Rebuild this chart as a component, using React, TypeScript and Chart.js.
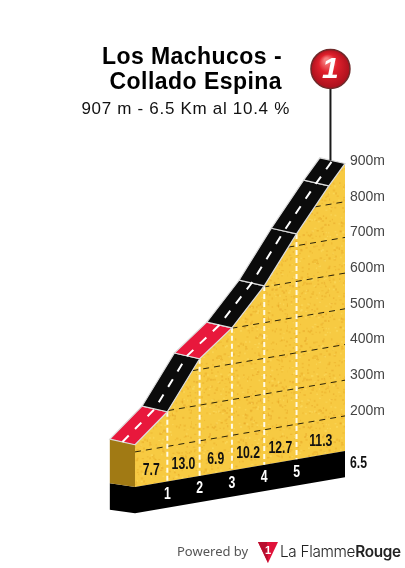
import React, { useEffect, useRef } from "react";
import { Chart, registerables } from "chart.js";

Chart.register(...registerables);

const TITLE_LINES = ["Los Machucos -", "Collado Espina"];
const SUBTITLE = "907 m - 6.5 Km al 10.4 %";

const KM = [0, 1, 2, 3, 4, 5, 6, 6.5];
const ELEVATION = [220, 297, 430, 501, 603, 733, 852, 907];
const ROAD_COLORS = ["#e8183c", "#0b0b0b", "#e8183c", "#0b0b0b", "#0b0b0b", "#0b0b0b", "#0b0b0b"];
const GRADE_KM = [0.5, 1.5, 2.5, 3.5, 4.5, 5.75];
const GRADE_LABELS = ["7.7", "13.0", "6.9", "10.2", "12.7", "11.3"];
const KM_MARKS = [1, 2, 3, 4, 5];
const GRID_HEIGHTS = [200, 300, 400, 500, 600, 700, 800];
const TICK_HEIGHTS = [200, 300, 400, 500, 600, 700, 800, 900];
const TOTAL_KM = 6.5;
const TOTAL_LABEL = "6.5";
const BASE_TOP = 102;
const BASE_BOTTOM = 28;
const GRADE_LEVEL = 141;
const KM_LABEL_LEVEL = 66;
const SKEW = 15.52;
const BACK_KM = -0.78;
const BACK_UP = 16;
const PIN_KM = 6.05;
const PIN_TOP = 1172;

const flat = (km: number, h: number) => ({ x: km, y: h - (TOTAL_KM - km) * SKEW });
const back = (km: number, h: number, up = BACK_UP) => {
  const p = flat(km, h);
  return { x: p.x + BACK_KM, y: p.y + up };
};
const mid = (km: number, h: number) => {
  const p = flat(km, h);
  return { x: p.x + BACK_KM / 2, y: p.y + BACK_UP / 2 };
};

function gridStart(h: number) {
  if (ELEVATION[0] >= h) return 0;
  for (let i = 1; i < KM.length; i++) {
    if (ELEVATION[i] >= h) {
      const t = (h - ELEVATION[i - 1]) / (ELEVATION[i] - ELEVATION[i - 1]);
      return KM[i - 1] + t * (KM[i] - KM[i - 1]);
    }
  }
  return TOTAL_KM;
}

function elevationAt(km: number) {
  for (let i = 1; i < KM.length; i++) {
    if (km <= KM[i]) {
      const t = (km - KM[i - 1]) / (KM[i] - KM[i - 1]);
      return ELEVATION[i - 1] + t * (ELEVATION[i] - ELEVATION[i - 1]);
    }
  }
  return ELEVATION[ELEVATION.length - 1];
}

function speckle(): CanvasPattern | string {
  const c = document.createElement("canvas");
  c.width = 96;
  c.height = 96;
  const g = c.getContext("2d");
  if (!g) return "#f7ca42";
  g.fillStyle = "#f7ca42";
  g.fillRect(0, 0, 96, 96);
  let s = 7;
  const next = () => {
    s = (s * 75 + 74) % 65537;
    return s / 65537;
  };
  for (let i = 0; i < 500; i++) {
    const r = next();
    g.fillStyle = r < 0.55 ? "rgba(232,170,40,0.45)" : r < 0.8 ? "rgba(252,218,96,0.6)" : "rgba(224,155,34,0.4)";
    g.fillRect(next() * 96, next() * 96, 1 + next() * 1.5, 1 + next() * 1.2);
  }
  return g.createPattern(c, "repeat") || "#f7ca42";
}

const shape = (data: any[], color: any, extra: any = {}) => ({
  data,
  showLine: true,
  fill: "shape",
  backgroundColor: color,
  borderColor: color,
  borderWidth: 0,
  pointRadius: 0,
  tension: 0,
  ...extra,
});

const stroke = (data: any[], color: string, width: number, dash: number[] = []) => ({
  data,
  showLine: true,
  fill: false,
  borderColor: color,
  backgroundColor: color,
  borderWidth: width,
  borderDash: dash,
  pointRadius: 0,
  tension: 0,
});

function narrowText(ctx: any, t: string, x: number, y: number, sx: number) {
  ctx.save();
  ctx.translate(x, y);
  ctx.scale(sx, 1);
  ctx.fillText(t, 0, 0);
  ctx.restore();
}

const textPlugin = {
  id: "profileText",
  afterDatasetsDraw(chart: any) {
    const { ctx, scales } = chart;
    const X = (v: number) => scales.x.getPixelForValue(v);
    const Y = (v: number) => scales.y.getPixelForValue(v);
    ctx.save();
    ctx.textBaseline = "middle";
    ctx.textAlign = "center";
    ctx.font = 'bold 17px "Liberation Sans"';
    ctx.fillStyle = "#111";
    GRADE_LABELS.forEach((t, i) => {
      const p = flat(GRADE_KM[i], GRADE_LEVEL);
      narrowText(ctx, t, X(p.x), Y(p.y), 0.72);
    });
    ctx.fillStyle = "#fff";
    KM_MARKS.forEach((k) => {
      const p = flat(k, KM_LABEL_LEVEL);
      narrowText(ctx, String(k), X(p.x), Y(p.y), 0.72);
    });
    ctx.textAlign = "left";
    ctx.fillStyle = "#111";
    const e = flat(TOTAL_KM, KM_LABEL_LEVEL);
    narrowText(ctx, TOTAL_LABEL, X(e.x) + 5, Y(e.y), 0.72);

    const bx = X(PIN_KM);
    const by = Y(PIN_TOP);
    const r = 20;
    const grad = ctx.createRadialGradient(bx - 4, by - 9, 2, bx, by, r);
    grad.addColorStop(0, "#f78080");
    grad.addColorStop(0.4, "#e0202c");
    grad.addColorStop(1, "#a8101c");
    ctx.beginPath();
    ctx.arc(bx, by, r - 0.5, 0, Math.PI * 2);
    ctx.fillStyle = grad;
    ctx.fill();
    ctx.lineWidth = 1.5;
    ctx.strokeStyle = "#6e2a2a";
    ctx.stroke();
    ctx.textAlign = "center";
    ctx.fillStyle = "#fff";
    ctx.font = 'italic bold 30px "Liberation Sans"';
    ctx.fillText("1", bx, by + 1);
    ctx.restore();
  },
};

export default function App() {
  const ref = useRef<HTMLCanvasElement>(null);
  useEffect(() => {
    if (!ref.current) return;
    const last = KM.length - 1;
    const front = KM.map((k, i) => flat(k, ELEVATION[i]));
    const mountain = [...front, flat(TOTAL_KM, BASE_TOP), flat(0, BASE_TOP), front[0]];
    const base = [
      flat(0, BASE_TOP),
      flat(TOTAL_KM, BASE_TOP),
      flat(TOTAL_KM, BASE_BOTTOM),
      flat(0, BASE_BOTTOM),
      back(0, BASE_BOTTOM, 10),
      back(0, BASE_TOP, 10),
      flat(0, BASE_TOP),
    ];
    const block = [
      flat(0, ELEVATION[0]),
      flat(0, BASE_TOP),
      back(0, BASE_TOP, 10),
      back(0, ELEVATION[0]),
      flat(0, ELEVATION[0]),
    ];
    const grids = GRID_HEIGHTS.map((h) => stroke([flat(gridStart(h), h), flat(TOTAL_KM, h)], "#2a2208", 1, [6, 5]));
    const verticals = KM_MARKS.map((k) => stroke([flat(k, elevationAt(k)), flat(k, BASE_TOP)], "#fffbe8", 2, [5, 3]));
    const road = ROAD_COLORS.map((color, i) =>
      shape(
        [
          flat(KM[i], ELEVATION[i]),
          flat(KM[i + 1], ELEVATION[i + 1]),
          back(KM[i + 1], ELEVATION[i + 1]),
          back(KM[i], ELEVATION[i]),
          flat(KM[i], ELEVATION[i]),
        ],
        color,
        { borderColor: "#dcdcdc", borderWidth: 1.2 }
      )
    );
    const pinBase = mid(TOTAL_KM, ELEVATION[last]);
    const painted = [
      shape(mountain, speckle()),
      shape(base, "#000"),
      shape(block, "#a17a14"),
      ...grids,
      ...verticals,
      ...road,
      stroke(KM.map((k, i) => mid(k, ELEVATION[i])), "#fff", 2, [9, 9]),
      stroke([{ x: PIN_KM, y: pinBase.y }, { x: PIN_KM, y: PIN_TOP }], "#1a1a1a", 2),
    ];
    const datasets = painted.map((d, i) => ({ ...d, order: painted.length - i, clip: false }));
    const chart = new Chart(ref.current, {
      type: "scatter",
      data: { datasets: datasets as any },
      plugins: [textPlugin],
      options: {
        animation: false,
        responsive: false,
        layout: { padding: 0 },
        plugins: { legend: { display: false }, tooltip: { enabled: false }, title: { display: false } },
        scales: {
          x: { type: "linear", display: false, min: -4.18, max: 6.5 },
          y: { type: "linear", display: false, min: -226, max: 1365 },
          yl: {
            type: "linear",
            position: "right",
            min: -240,
            max: 1351,
            grid: { display: false, drawTicks: false },
            border: { display: false },
            afterFit: (s: any) => {
              s.width = 60;
              s.paddingTop = 0;
              s.paddingBottom = 0;
            },
            afterBuildTicks: (s: any) => {
              s.ticks = TICK_HEIGHTS.map((value) => ({ value }));
            },
            ticks: {
              padding: 5,
              color: "#444",
              autoSkip: false,
              font: { family: '"Liberation Sans"', size: 14 },
              callback: (v: any) => `${v}m`,
            },
          },
        },
      } as any,
    });
    return () => chart.destroy();
  }, []);

  return (
    <div style={{ position: "absolute", left: 0, top: 0, width: 405, height: 568, background: "#fff", overflow: "hidden" }}>
      <canvas ref={ref} width={405} height={568} style={{ position: "absolute", left: 0, top: 0, width: 405, height: 568 }} />
      <div style={{ position: "absolute", right: 123, top: 44, textAlign: "right", font: 'bold 23px/25px "Liberation Sans"', letterSpacing: 0.45, color: "#000", whiteSpace: "nowrap" }}>
        {TITLE_LINES.map((l) => (
          <div key={l}>{l}</div>
        ))}
      </div>
      <div style={{ position: "absolute", right: 115, top: 99, font: '17px/20px "Liberation Sans"', letterSpacing: 0.7, color: "#111", whiteSpace: "nowrap" }}>
        {SUBTITLE}
      </div>
      <div style={{ position: "absolute", left: 177, top: 542, font: '13px/18px "Noto Sans"', color: "#555", whiteSpace: "nowrap" }}>Powered by</div>
      <svg style={{ position: "absolute", left: 257, top: 541 }} width={22} height={23} viewBox="0 0 22 23">
        <polygon points="1,1 21,1 11,22" fill="#e0123a" />
        <polygon points="1,1 10,1 11,22" fill="#b80e2e" />
        <text x="11" y="13" textAnchor="middle" fontSize="11" fontWeight="bold" fontFamily="Liberation Sans" fill="#fff">1</text>
      </svg>
      <div style={{ position: "absolute", left: 280, top: 541, font: '300 15.3px/21px Inter', color: "#222", whiteSpace: "nowrap", letterSpacing: -0.3 }}>
        La Flamme<span style={{ fontWeight: 600 }}>Rouge</span>
      </div>
    </div>
  );
}
